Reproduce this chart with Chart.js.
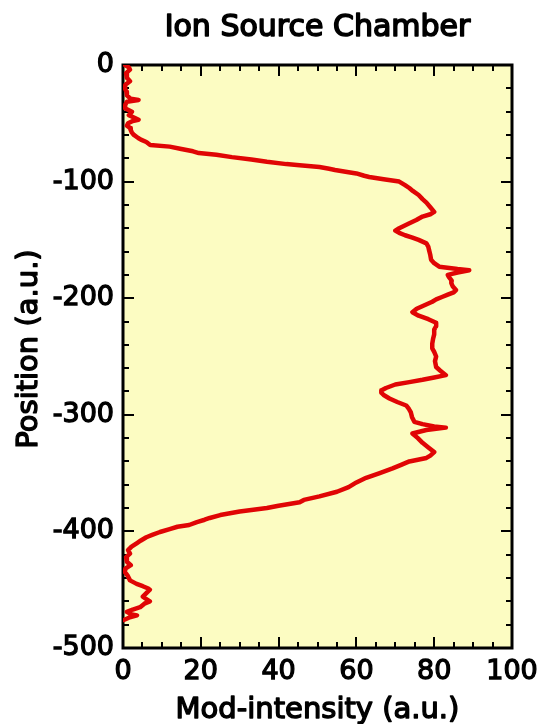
<!DOCTYPE html>
<html>
<head>
<meta charset="utf-8">
<script src="https://cdn.jsdelivr.net/npm/chart.js@4.4.1/dist/chart.umd.min.js"></script>
<style>
html,body{margin:0;padding:0;background:#fff;}
#wrap{width:542px;height:724px;}
</style>
</head>
<body>
<div id="wrap"><canvas id="c" width="542" height="724"></canvas></div>
<script>
const chartTitle = "Ion Source Chamber";
const xAxisTitle = "Mod-intensity (a.u.)";
const yAxisTitle = "Position (a.u.)";
const xTicks = [0, 20, 40, 60, 80, 100];
const yTicks = [0, -100, -200, -300, -400, -500];

const positions = [
  0,-2,-4,-7,-11,-14,-17,-20,-23,-26,-29,-30,-31.5,-34,-37,-40,-43,-45,-47,-48,
  -50,-52,-54,-56,-58,-60,-62.6,-64,-66,-68.6,-70,-72,-74,-75.5,-77,-79,-81,-83,-85,-86,
  -87.5,-89,-90,-92,-93,-95,-96,-98,-100,-103,-105.5,-108,-111.5,-115,-118,-122,-126,-128,-130,-133,
  -136,-140,-142,-144,-146,-148,-150,-153,-156,-159,-163,-167,-170,-173,-175,-176,-178,-180,-182,-185,
  -187,-190,-193,-195,-197,-199,-201,-203,-206,-209,-212,-215,-218,-221,-224,-227,-231,-235,-239,-243,
  -246,-250,-254,-259,-262,-266,-268,-270,-272,-274,-277,-279,-281,-283,-286,-289,-292,-295,-298,-302,
  -306,-308,-310,-311,-313,-316,-320,-324,-328,-332,-335,-337,-340,-343,-346,-350,-354,-358,-362,-366,
  -370,-373,-375,-378,-380,-383,-386,-388.5,-390,-392,-394.5,-396,-398,-400.5,-403,-405,-408,-410,-413,-416,
  -419,-422,-426,-429,-432,-435,-438,-442,-445,-447,-449,-450,-453,-456,-458,-460,-462,-465,-467,-469,
  -471,-472,-474,-476
];
const intensity = [
  0.5,1.5,1.8,0.8,1.0,1.8,0.6,0.5,0.9,1.0,2.0,4.0,1.0,0.6,0.5,2.3,1.5,2.8,4.0,2.5,
  1.3,1.0,1.8,2.0,2.3,2.8,3.9,4.6,6.0,7.0,12,15,18,19.5,24,28,33,37,42,45.4,
  50.5,53,54.5,58,60,62,63.3,67,71,72.5,73.6,74.5,76,77,78,79,80,79,77,75.4,
  73.5,71,70,71,72.5,74.4,76,78,78.5,78.7,79,79.2,80,81.3,86,89,86,83.5,83.8,84.5,
  84.4,84.8,85.6,85,83.5,82,80.5,79.5,77.5,75.5,74.4,76,78.5,80.5,80.5,80,80,79.7,79.5,79.5,
  80,80.5,80.2,80.5,81.5,83,80,77,73.6,70,67.6,66.5,66.4,67,68.5,70.5,72.8,73.5,74,74.3,
  74.9,77,80,83,78,74.4,75.8,77,78.5,80,79,78,73.6,71.5,69.3,66,62.5,60,58,55,
  50.5,46.5,45.4,40,37,30,25,22.3,21,19,17,14,12,9.5,7.5,6,4.5,3.6,2.2,1.3,
  1.8,0.8,1.0,2.0,0.6,0.5,1.2,1.8,3.5,5.1,6.5,6.9,6.0,5.1,6.0,6.9,5.5,4.4,2.5,1.0,
  2.0,3.6,1.5,0.2
];

const points = positions.map((p, i) => ({x: intensity[i], y: p}));

const FONT = "'DejaVu Sans', sans-serif";

const framePlugin = {
  id: 'frame',
  beforeDraw(chart) {
    const {ctx, chartArea: a} = chart;
    ctx.save();
    ctx.fillStyle = '#FCFCC2';
    ctx.fillRect(a.left, a.top, a.right - a.left, a.bottom - a.top);
    ctx.restore();
  },
  beforeDatasetsDraw(chart) {
    const {ctx, chartArea: a, scales} = chart;
    const xs = scales.x, ys = scales.y;
    ctx.save();
    ctx.strokeStyle = '#000';
    ctx.lineWidth = 3;
    ctx.strokeRect(a.left, a.top, a.right - a.left, a.bottom - a.top);
    ctx.lineWidth = 2;
    ctx.beginPath();
    for (let v = 0; v <= 100; v += 5) {
      const px = Math.round(xs.getPixelForValue(v));
      const len = (v % 20 === 0) ? 11 : 6;
      ctx.moveTo(px, a.bottom); ctx.lineTo(px, a.bottom - len);
      ctx.moveTo(px, a.top); ctx.lineTo(px, a.top + len);
    }
    for (let v = 0; v >= -500; v -= 20) {
      const py = Math.round(ys.getPixelForValue(v));
      const len = (v % 100 === 0) ? 11 : 6;
      ctx.moveTo(a.left, py); ctx.lineTo(a.left + len, py);
      ctx.moveTo(a.right, py); ctx.lineTo(a.right - len, py);
    }
    ctx.stroke();
    ctx.restore();
  },
  afterDraw(chart) {
    const {ctx, chartArea: a} = chart;
    ctx.save();
    ctx.fillStyle = '#000';
    ctx.strokeStyle = '#000';
    ctx.lineJoin = 'round';
    ctx.textAlign = 'center';
    ctx.textBaseline = 'alphabetic';
    const cx = (a.left + a.right) / 2;
    ctx.font = "30px " + FONT;
    ctx.lineWidth = 1.6;
    ctx.fillText(chartTitle, cx, 36);
    ctx.strokeText(chartTitle, cx, 36);
    ctx.font = "29px " + FONT;
    ctx.lineWidth = 1.4;
    ctx.fillText(xAxisTitle, cx, 718);
    ctx.strokeText(xAxisTitle, cx, 718);
    ctx.translate(37, 349);
    ctx.rotate(-Math.PI / 2);
    ctx.fillText(yAxisTitle, 0, 0);
    ctx.strokeText(yAxisTitle, 0, 0);
    ctx.restore();
  }
};

new Chart(document.getElementById('c'), {
  type: 'scatter',
  data: {
    datasets: [{
      data: points,
      showLine: true,
      borderColor: '#E00505',
      borderWidth: 4.5,
      borderJoinStyle: 'round',
      borderCapStyle: 'round',
      pointRadius: 0,
      fill: false,
      tension: 0
    }]
  },
  options: {
    responsive: false,
    animation: false,
    devicePixelRatio: 1,
    layout: {padding: {left: 0, right: 30, top: 65, bottom: 0}},
    plugins: {legend: {display: false}, tooltip: {enabled: false}, title: {display: false}},
    scales: {
      x: {
        type: 'linear', min: 0, max: 100,
        afterFit(s) { s.height = 76; s.paddingLeft = 0; s.paddingRight = 0; },
        afterBuildTicks(s) { s.ticks = xTicks.map(v => ({value: v})); },
        grid: {display: false, drawTicks: false},
        border: {display: false},
        ticks: {
          padding: 8, color: '#000',
          font: {family: FONT, size: 27},
          textStrokeColor: '#000', textStrokeWidth: 1.3,
          maxRotation: 0
        }
      },
      y: {
        type: 'linear', min: -500, max: 0,
        afterFit(s) { s.width = 123; s.paddingTop = 0; s.paddingBottom = 0; },
        afterBuildTicks(s) { s.ticks = yTicks.map(v => ({value: v})); },
        grid: {display: false, drawTicks: false},
        border: {display: false},
        ticks: {
          padding: 9, color: '#000',
          font: {family: FONT, size: 27},
          textStrokeColor: '#000', textStrokeWidth: 1.3
        }
      }
    }
  },
  plugins: [framePlugin]
});
</script>
</body>
</html>
